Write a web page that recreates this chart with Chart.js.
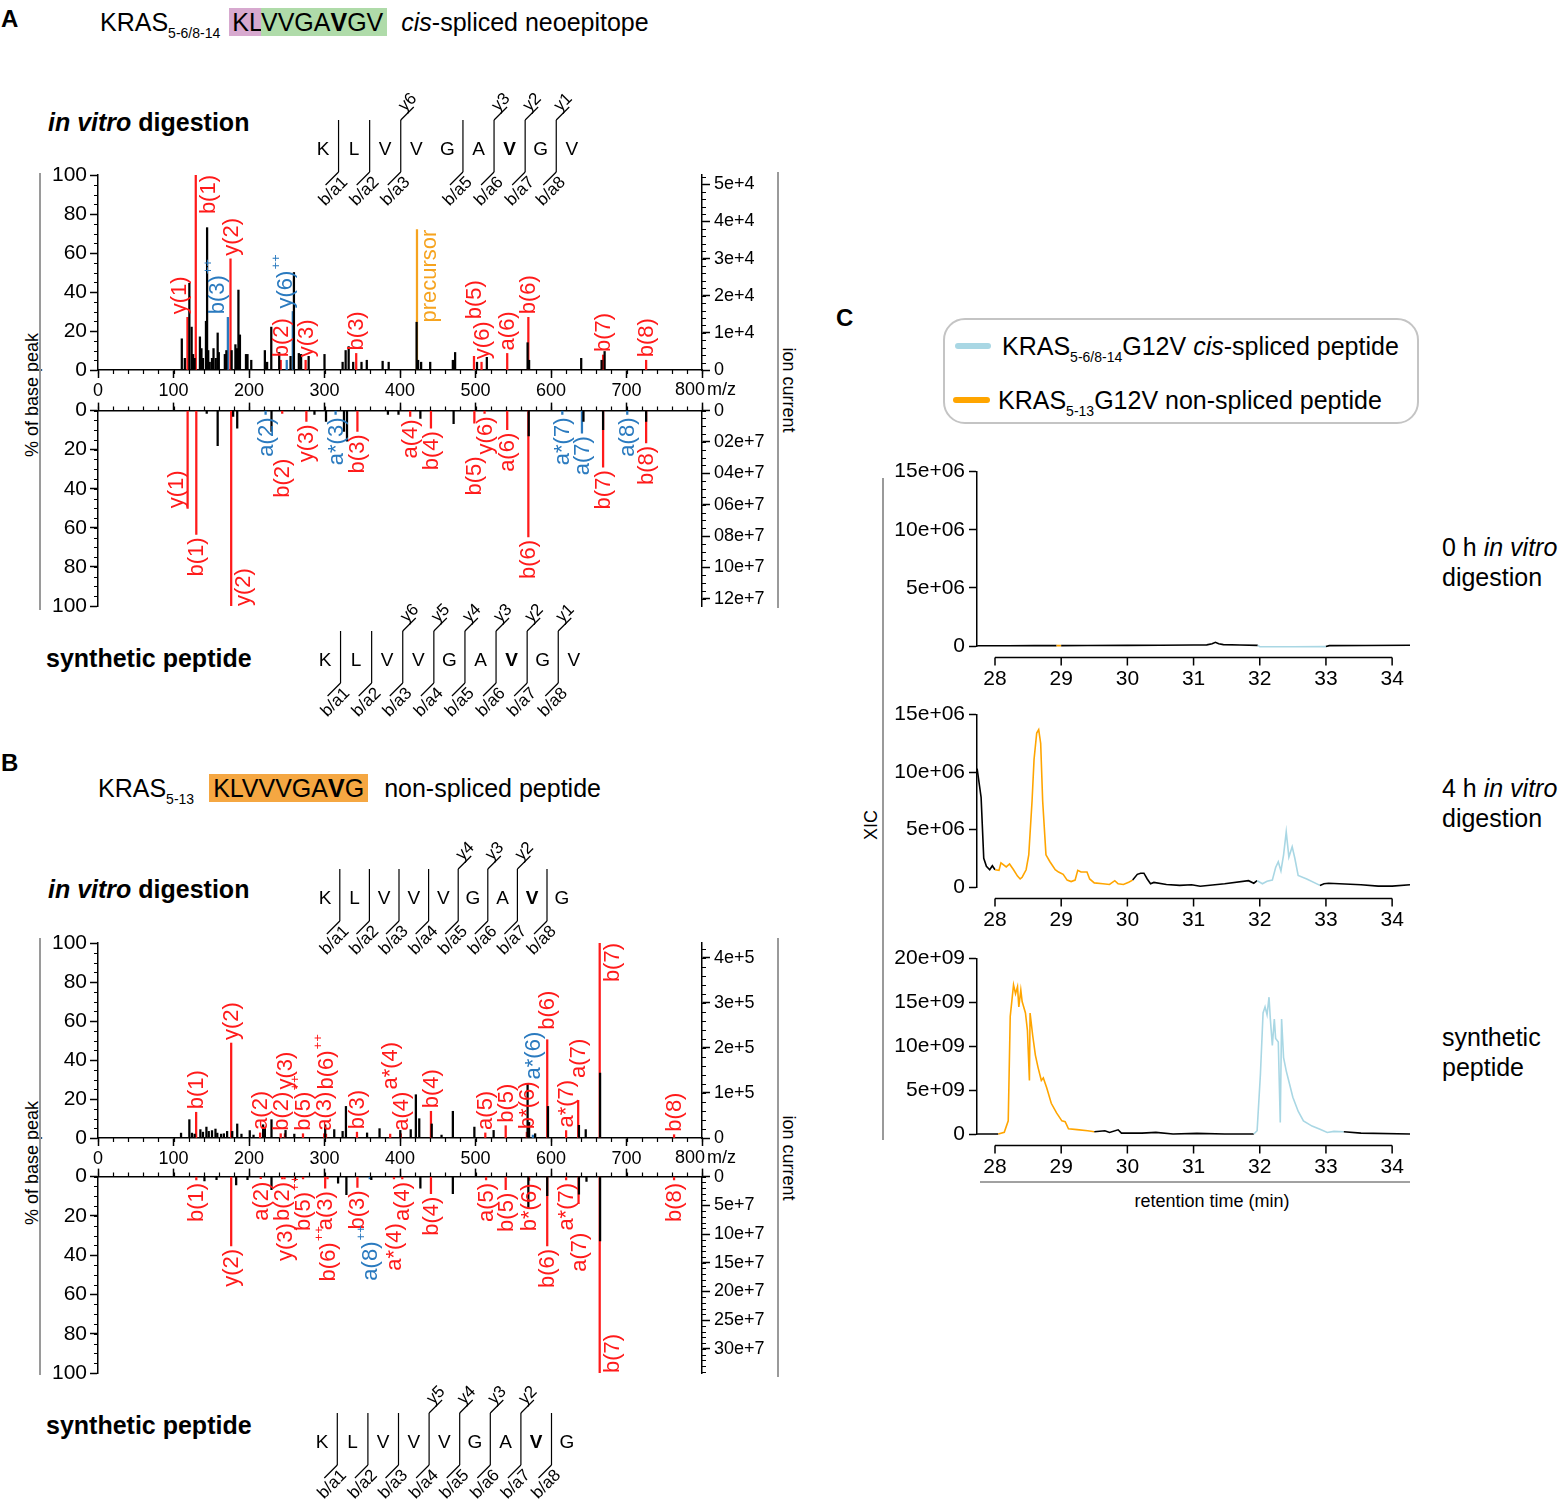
<!DOCTYPE html>
<html>
<head>
<meta charset="utf-8">
<script src="https://cdn.jsdelivr.net/npm/chart.js@4.4.1/dist/chart.umd.min.js"></script>
<style>
  body { margin: 0; background: #fff; font-family: "Liberation Sans", Arial, sans-serif; color: #000; }
  #page { position: relative; width: 1560px; height: 1501px; overflow: hidden; background: #fff; }
  .box { position: absolute; }
  .t { position: absolute; white-space: nowrap; line-height: 1; }
  .t sub { font-size: 14px; vertical-align: -7px; line-height: 0; }
  .rot { position: absolute; white-space: nowrap; line-height: 1; transform: translate(-50%, -50%) rotate(-90deg); font-size: 18px; }
  .rotr { position: absolute; white-space: nowrap; line-height: 1; transform: translate(-50%, -50%) rotate(90deg); font-size: 18px; }
  #overlay { position: absolute; left: 0; top: 0; z-index: 5; pointer-events: none; }
  .sw { position: absolute; height: 6px; border-radius: 3px; }
</style>
</head>
<body>
<div id="page">
  <div class="t" style="left:1px;top:7px;font-size:24px;font-weight:bold">A</div>
  <div class="t" style="left:100px;top:10px;font-size:25px">KRAS<sub>5-6/8-14</sub><span style="background:#d7a9cf;padding-left:3px;margin-left:9px">KL</span><span style="background:#afdba9;padding-right:4px">VVGA<b>V</b>GV</span><span style="margin-left:14px"><i>cis</i>-spliced neoepitope</span></div>
  <div class="t" style="left:48px;top:110px;font-size:25px;font-weight:bold"><i>in vitro</i> digestion</div>
  <div class="t" style="left:46px;top:646px;font-size:25px;font-weight:bold">synthetic peptide</div>
  <div class="rot" style="left:32px;top:395px">% of base peak</div>
  <div class="rotr" style="left:789px;top:390px">ion current</div>

  <div class="t" style="left:1px;top:751px;font-size:24px;font-weight:bold">B</div>
  <div class="t" style="left:98px;top:776px;font-size:25px">KRAS<sub>5-13</sub><span style="background:#f5a742;padding:0 4px;margin-left:15px">KLVVVGA<b>V</b>G</span><span style="margin-left:16px">non-spliced peptide</span></div>
  <div class="t" style="left:48px;top:877px;font-size:25px;font-weight:bold"><i>in vitro</i> digestion</div>
  <div class="t" style="left:46px;top:1413px;font-size:25px;font-weight:bold">synthetic peptide</div>
  <div class="rot" style="left:32px;top:1163px">% of base peak</div>
  <div class="rotr" style="left:789px;top:1158px">ion current</div>

  <div class="t" style="left:836px;top:306px;font-size:24px;font-weight:bold">C</div>
  <div class="box" style="left:943px;top:318px;width:472px;height:102px;border:2px solid #c4c4c4;border-radius:22px"></div>
  <div class="sw" style="left:955px;top:343px;width:36px;background:#a9d7e4"></div>
  <div class="t" style="left:1002px;top:334px;font-size:25px">KRAS<sub>5-6/8-14</sub>G12V <i>cis</i>-spliced peptide</div>
  <div class="sw" style="left:953px;top:397px;width:37px;background:#ffa500"></div>
  <div class="t" style="left:998px;top:388px;font-size:25px">KRAS<sub>5-13</sub>G12V non-spliced peptide</div>
  <div class="rot" style="left:871px;top:825px">XIC</div>
  <div class="t" style="left:1442px;top:535px;font-size:25px">0 h <i>in vitro</i></div>
  <div class="t" style="left:1442px;top:565px;font-size:25px">digestion</div>
  <div class="t" style="left:1442px;top:776px;font-size:25px">4 h <i>in vitro</i></div>
  <div class="t" style="left:1442px;top:806px;font-size:25px">digestion</div>
  <div class="t" style="left:1442px;top:1025px;font-size:25px">synthetic</div>
  <div class="t" style="left:1442px;top:1055px;font-size:25px">peptide</div>
  <div class="t" style="left:1112px;top:1192px;width:200px;text-align:center;font-size:18px">retention time (min)</div>

  <svg id="overlay" width="1560" height="1501"></svg>
</div>

<script>
// ---------- Panel A: KLVVGAVGV (cis-spliced) ----------
// in vitro digestion, unassigned peaks (m/z, % of base peak)
const aVitroMz = [111, 115, 121, 124, 126, 128, 135, 137, 139, 143,
  144.5, 146, 148, 151, 153, 156, 158.5, 160, 168, 170,
  177, 182, 184, 186, 188, 196, 198, 203, 221, 224,
  229.5, 240, 255, 259.5, 266, 269, 279, 300, 324, 328,
  332, 338, 349, 356, 377, 385, 422, 424, 428, 440,
  470, 473, 502, 515, 569, 571, 640, 667, 671];
const aVitroInt = [16, 6, 44.5, 22, 8, 6, 17, 11, 6, 25,
  73, 10, 4, 6, 11, 6, 19, 9, 8, 10,
  10, 13, 11, 41, 18, 8, 8, 5, 10, 4,
  22, 9, 7, 50, 8.5, 8, 7, 8, 4, 10,
  12, 4, 4, 5, 4.5, 4, 24.5, 5, 4, 4,
  5, 9, 4, 6.5, 14, 5, 6, 5, 9.5];
// assigned ions (r = red, b = blue, o = precursor)
const aVitroIonMz = [118.5, 129.5, 172, 175.5, 242, 258, 250, 275, 342, 422.5, 508, 498, 542, 570, 669, 726];
const aVitroIonInt = [27, 100, 27, 57, 5, 30, 5, 5, 8.5, 72, 4, 7, 8.5, 27, 7.7, 5];
const aVitroIonLabel = ['y(1)', 'b(1)', 'b(3)++', 'y(2)', 'b(2)', 'y(6)++', '', 'y(3)', 'b(3)', 'precursor', 'y(6)', 'b(5)', 'a(6)', 'b(6)', 'b(7)', 'b(8)'];
const aVitroIonKind = ['r', 'r', 'b', 'r', 'r', 'b', 'b', 'r', 'r', 'o', 'r', 'r', 'r', 'r', 'r', 'r'];

// synthetic peptide (mirror)
const aSynMz = [144, 158.5, 179, 184.4, 229.8, 286.7, 302, 325.8, 329.8, 384, 398, 427, 471, 570.5, 643, 669, 726];
const aSynInt = [1.5, 18, 3, 9, 10.6, 2, 5.5, 10.6, 15.7, 2, 2, 4, 6.7, 13, 5.5, 9.8, 5.5];
const aSynIonMz = [118.7, 130.2, 176.4, 222, 244, 276, 314.7, 343.6, 413.5, 441, 512, 498.5, 542, 570, 615, 641, 669, 701, 726];
const aSynIonInt = [50, 63.4, 100, 2, 1.5, 5.5, 2, 10.6, 3, 9, 1.5, 6.4, 9.8, 64.6, 2, 11.5, 29, 2, 16.5];
const aSynIonLabel = ['y(1)', 'b(1)', 'y(2)', 'a(2)', 'b(2)', 'y(3)', 'a*(3)', 'b(3)', 'a(4)', 'b(4)', 'y(6)', 'b(5)', 'a(6)', 'b(6)', 'a*(7)', 'a(7)', 'b(7)', 'a(8)', 'b(8)'];
const aSynIonKind = ['r', 'r', 'r', 'b', 'r', 'r', 'b', 'r', 'r', 'r', 'r', 'r', 'r', 'r', 'b', 'b', 'r', 'b', 'r'];

// ---------- Panel B: KLVVVGAVG (non-spliced) ----------
const bVitroMz = [110, 121, 124.5, 128, 135.6, 139, 143.6, 146.7, 151, 155.6,
  158, 163, 166.7, 171, 177.8, 184.4, 190, 201, 206, 218.7,
  221, 229.8, 248.4, 260, 300.9, 312.9, 324, 328.4, 356.4, 372.9,
  400.4, 414.2, 421, 425.5, 442, 455, 470, 498.5, 524, 569,
  571, 579, 596, 637, 646, 665];
const bVitroInt = [2.5, 9.4, 2.5, 2, 4.3, 3, 5.6, 3.4, 3.8, 4.6,
  2.5, 2, 2.2, 3.4, 3.4, 7.2, 2, 3.8, 1.5, 6.8,
  5.5, 9.4, 3.9, 2, 6.8, 4.3, 3.4, 16.2, 2.6, 4.8,
  3.9, 4.3, 22.2, 9.9, 7.2, 1.5, 13.7, 5.6, 3.9, 27.9,
  8, 2.2, 16.2, 6.5, 4.3, 33.3];
const bVitroIonMz = [130, 176.4, 214.7, 242, 247.6, 271.5, 299.6, 302, 343, 401, 387, 441, 513, 540, 568, 576, 595, 620, 636, 664.5, 763];
const bVitroIonInt = [13.2, 48.7, 2.6, 2.2, 2.2, 2.2, 2.2, 2, 3, 2.2, 2, 13.7, 2.6, 6.3, 3, 1.5, 50.4, 3.8, 19.3, 100, 1.7];
const bVitroIonLabel = ['b(1)', 'y(2)', 'a(2)', 'b(2)', 'y(3)', 'b(5)++', 'a(3)', 'b(6)++', 'b(3)', 'a(4)', 'a*(4)', 'b(4)', 'a(5)', 'b(5)', 'b*(6)', 'a*(6)', 'b(6)', 'a*(7)', 'a(7)', 'b(7)', 'b(8)'];
const bVitroIonKind = ['r', 'r', 'r', 'r', 'r', 'r', 'r', 'r', 'r', 'r', 'r', 'r', 'r', 'r', 'r', 'b', 'r', 'r', 'r', 'r', 'r'];

const bSynMz = [141, 157, 183, 198, 229.8, 261, 318, 329, 362, 427, 470, 570, 595, 637, 647, 665];
const bSynInt = [2.2, 1.5, 4.2, 1.5, 6.7, 2, 3.4, 9.2, 1.5, 5.9, 8.7, 16, 9.7, 8.9, 2.5, 32.8];
const bSynIonMz = [130.2, 176.4, 215.6, 244, 247, 271.6, 300.9, 304, 343.6, 360, 403, 392, 441, 514, 540, 571, 595, 620, 636.5, 664.5, 763];
const bSynIonInt = [1.7, 35.3, 1, 1.2, 1.2, 1.2, 5.9, 1.2, 5.5, 1.2, 1.2, 1.2, 8.7, 1.7, 6.7, 2, 35.3, 1.7, 13.8, 100, 1.7];
const bSynIonLabel = ['b(1)', 'y(2)', 'a(2)', 'b(2)', 'y(3)', 'b(5)++', 'a(3)', 'b(6)++', 'b(3)', 'a(8)++', 'a(4)', 'a*(4)', 'b(4)', 'a(5)', 'b(5)', 'b*(6)', 'b(6)', 'a*(7)', 'a(7)', 'b(7)', 'b(8)'];
const bSynIonKind = ['r', 'r', 'r', 'r', 'r', 'r', 'r', 'r', 'r', 'b', 'r', 'r', 'r', 'r', 'r', 'r', 'r', 'r', 'r', 'r', 'r'];

// ---------- Panel C: XIC traces (retention time in min) ----------
const c0hTime = [27.73, 28.2, 28.6, 28.93, 29.0, 29.4, 30.0, 30.5, 31.0, 31.2, 31.28, 31.33, 31.38, 31.45, 31.7, 31.97, 32.0, 32.5, 33.0, 33.05, 33.6, 34.27];
const c0hXic = [0.02, 0.02, 0.03, 0.03, 0.03, 0.04, 0.05, 0.07, 0.08, 0.1, 0.2, 0.32, 0.2, 0.12, 0.08, 0.05, -0.05, -0.06, -0.05, 0.03, 0.04, 0.06]; // x 1e6

const c4hTime = [27.73, 27.79, 27.83, 27.87, 27.92, 27.96, 28.0, 28.06, 28.09, 28.17,
  28.22, 28.28, 28.34, 28.38, 28.41, 28.47, 28.51, 28.56, 28.59, 28.63,
  28.66, 28.69, 28.72, 28.77, 28.83, 28.91, 28.96, 29.03, 29.09, 29.15,
  29.21, 29.25, 29.3, 29.39, 29.43, 29.5, 29.63, 29.73, 29.81, 29.86,
  29.94, 30.02, 30.08, 30.15, 30.2, 30.25, 30.3, 30.35, 30.4, 30.59,
  30.79, 30.97, 31.1, 31.47, 31.83, 31.91, 31.96, 32.04, 32.11, 32.19,
  32.24, 32.28, 32.32, 32.36, 32.4, 32.44, 32.49, 32.53, 32.58, 32.71,
  32.91, 32.97, 33.04, 33.53, 33.79, 34.0, 34.27];
const c4hXic = [10.3, 7.8, 2.5, 1.8, 1.5, 1.85, 1.5, 1.45, 2.1, 1.75,
  2.0, 1.5, 0.95, 0.7, 0.85, 1.5, 2.8, 7.5, 11.1, 13.4,
  13.7, 12.5, 7.5, 2.8, 2.2, 1.5, 1.3, 1.1, 0.6, 0.47,
  0.6, 1.45, 1.3, 1.3, 0.7, 0.36, 0.28, 0.22, 0.55, 0.28,
  0.22, 0.42, 0.6, 1.1, 1.2, 1.2, 0.7, 0.28, 0.4, 0.22,
  0.14, 0.19, 0.06, 0.28, 0.55, 0.33, 0.55, 0.28, 0.5, 0.6,
  1.7, 2.2, 1.4, 2.8, 4.8, 2.6, 3.5, 2.5, 1.0, 0.7,
  0.14, 0.28, 0.33, 0.19, 0.08, 0.08, 0.19]; // x 1e6

const cSynTime = [27.73, 28.05, 28.14, 28.2, 28.23, 28.28, 28.31, 28.34, 28.36, 28.39,
  28.41, 28.46, 28.49, 28.52, 28.53, 28.57, 28.61, 28.65, 28.7, 28.73,
  28.78, 28.85, 28.93, 29.01, 29.06, 29.11, 29.24, 29.4, 29.5, 29.66,
  29.73, 29.86, 29.91, 30.22, 30.43, 30.69, 31.05, 31.47, 31.91, 31.96,
  32.01, 32.05, 32.08, 32.11, 32.14, 32.16, 32.19, 32.22, 32.24, 32.28,
  32.31, 32.33, 32.36, 32.4, 32.45, 32.5, 32.58, 32.66, 32.79, 32.91,
  33.02, 33.12, 33.27, 33.53, 34.27];
const cSynXic = [0, 0, 0.2, 1.5, 13.4, 17, 16, 16.8, 14.5, 16.4,
  15.1, 13.8, 11.8, 6.1, 13.8, 11.2, 9.0, 7.6, 6.1, 6.4,
  5.3, 3.5, 2.4, 1.5, 1.4, 0.6, 0.5, 0.37, 0.26, 0.37,
  0.18, 0.48, 0.1, 0.1, 0.18, 0, 0.07, 0, 0, 0.37,
  6.8, 13.8, 14.5, 13.6, 15.6, 13.1, 10.1, 13.1, 10.9, 10.5,
  1.3, 13.1, 8.7, 7.2, 5.7, 4.2, 2.6, 1.5, 0.9, 0.55,
  0.18, 0.3, 0.26, 0.1, 0]; // x 1e9

// retention-time windows of the two peptides in each trace
const c0hNonSpliced = [28.93, 29.0], c0hSpliced = [31.97, 33.0];
const c4hNonSpliced = [28.0, 30.08], c4hSpliced = [31.96, 32.91];
const cSynNonSpliced = [28.05, 29.5], cSynSpliced = [31.91, 33.27];

// ---------- styling ----------
Chart.defaults.font.family = '"Liberation Sans", Arial, sans-serif';
Chart.defaults.color = '#000';
Chart.defaults.animation = false;
Chart.defaults.plugins.legend.display = false;
Chart.defaults.plugins.tooltip.enabled = false;

const ionColors = { r: '#ff1a1a', b: '#2a7abf', o: '#f6a31e' };
const XIC_ORANGE = '#ffa500', XIC_BLUE = '#a9d7e4';

function makeCanvas(left, top, w, h) {
    const div = document.createElement('div');
    div.className = 'box';
    div.style.cssText = `left:${left}px;top:${top}px;width:${w}px;height:${h}px`;
    const c = document.createElement('canvas');
    c.width = w; c.height = h;
    c.style.width = w + 'px'; c.style.height = h + 'px';
    div.appendChild(c);
    document.getElementById('page').insertBefore(div, document.getElementById('overlay'));
    return c.getContext('2d');
}

// minor ticks for axes (Chart.js only draws one tick length)
function minorTicks(steps) {
    return {
        id: 'minorTicks',
        afterDraw(chart) {
            const ctx = chart.ctx;
            ctx.save();
            ctx.strokeStyle = '#000';
            ctx.lineWidth = 1.2;
            ctx.beginPath();
            Object.keys(steps).forEach(id => {
                const s = chart.scales[id];
                for (let v = s.min; v <= s.max + 1e-9; v += steps[id]) {
                    const p = Math.round(s.getPixelForValue(v)) + 0.5;
                    if (s.isHorizontal()) {
                        const y0 = s.position === 'top' ? s.bottom : s.top;
                        const d = s.position === 'top' ? -4 : 4;
                        ctx.moveTo(p, y0); ctx.lineTo(p, y0 + d);
                    } else {
                        const x0 = s.position === 'left' ? s.right : s.left;
                        const d = s.position === 'left' ? -4 : 4;
                        ctx.moveTo(x0, p); ctx.lineTo(x0 + d, p);
                    }
                }
            });
            ctx.stroke();
            ctx.restore();
        }
    };
}

// rotated ion labels next to the sticks, stacked when they collide
function ionLabels(cfg) {
    return {
        id: 'ionLabels',
        afterDatasetsDraw(chart) {
            const { ctx, chartArea: ca } = chart;
            const xs = chart.scales.x, ys = chart.scales.y;
            const placed = [];
            ctx.save();
            cfg.ionMz.forEach((m, i) => {
                const txt = cfg.ionLabel[i];
                if (!txt) return;
                const sup = txt.endsWith('++');
                const base = sup ? txt.slice(0, -2) : txt;
                ctx.font = '22px "Liberation Sans", Arial';
                const wb = ctx.measureText(base).width;
                const w = wb + (sup ? 10 : 0);
                const nudge = (cfg.nudge || {})[txt];
                const px = xs.getPixelForValue(m);
                const py = ys.getPixelForValue(cfg.ionInt[i]);
                let cx = px + (typeof nudge === 'number' ? nudge : 0), y0, y1;
                if (nudge === 'L') {
                    cx = px - 12;
                    if (cfg.mirror) { y1 = py; y0 = py - w; } else { y0 = py; y1 = py + w; }
                } else if (!cfg.mirror) {
                    y1 = py - 3; y0 = y1 - w;
                    if (y0 < ca.top - 6) { cx = px + 12; y0 = py; y1 = py + w; }
                } else {
                    y0 = py + 3; y1 = y0 + w;
                    if (y1 > ca.bottom + 6) { cx = px + 12; y1 = py; y0 = py - w; }
                }
                let moved = true, guard = 0;
                while (moved && guard++ < 30) {
                    moved = false;
                    for (const r of placed) {
                        if (Math.abs(r.cx - cx) < 17 && y0 < r.y1 && y1 > r.y0) {
                            if (!cfg.mirror) { y1 = r.y0 - 2; y0 = y1 - w; } else { y0 = r.y1 + 2; y1 = y0 + w; }
                            moved = true;
                        }
                    }
                }
                placed.push({ cx, y0, y1 });
                ctx.save();
                ctx.fillStyle = ionColors[cfg.ionKind[i]];
                ctx.translate(cx, y1);
                ctx.rotate(-Math.PI / 2);
                ctx.textBaseline = 'middle';
                ctx.textAlign = 'left';
                ctx.fillText(base, 0, 1);
                if (sup) {
                    ctx.font = '13px "Liberation Sans", Arial';
                    ctx.fillText('++', wb + 1, -8);
                }
                ctx.restore();
            });
            ctx.restore();
        }
    };
}

const mzUnit = {
    id: 'mzUnit',
    afterDraw(chart) {
        const ctx = chart.ctx, xs = chart.scales.x;
        const p = xs.getPixelForValue(800);
        ctx.save();
        ctx.font = '18px "Liberation Sans", Arial';
        ctx.fillStyle = '#000';
        ctx.textBaseline = 'top';
        ctx.textAlign = 'right';
        ctx.fillText('800', p + 3, chart.chartArea.bottom + 11);
        ctx.textAlign = 'left';
        ctx.fillText('m/z', p + 5, chart.chartArea.bottom + 11);
        ctx.restore();
    }
};

function spectrum(cfg) {
    const ctx = makeCanvas(0, cfg.top, 800, cfg.height);
    const sticks = (mz, it) => mz.map((m, i) => ({ x: m, y: it[i] }));
    const pick = k => ({
        data: sticks(cfg.ionMz.filter((m, i) => cfg.ionKind[i] === k), cfg.ionInt.filter((v, i) => cfg.ionKind[i] === k)),
        backgroundColor: ionColors[k], barThickness: 1.6, grouped: false
    });
    const mirror = cfg.mirror;
    const grid = { drawOnChartArea: false, tickLength: 8, tickColor: '#000', tickWidth: 1.5, offset: false };
    const border = { color: '#000', width: 1.5 };
    const plugins = [minorTicks({ x: 20, y: 5, y2: cfg.ionMinor }), ionLabels(cfg)];
    if (!mirror) plugins.push(mzUnit);
    new Chart(ctx, {
        type: 'bar',
        data: {
            datasets: [
                { data: sticks(cfg.mz, cfg.int), backgroundColor: '#000', barThickness: 1.6, grouped: false },
                pick('r'), pick('b'), pick('o')
            ]
        },
        options: {
            responsive: false,
            layout: { padding: { top: cfg.padTop, bottom: cfg.padBottom, left: 0, right: 0 } },
            scales: {
                x: {
                    type: 'linear', min: 0, max: 800, offset: false, position: mirror ? 'top' : 'bottom',
                    grid, border,
                    ticks: { stepSize: 100, includeBounds: false, display: !mirror, font: { size: 18 }, padding: 2, maxRotation: 0, autoSkip: false,
                        callback: v => v === 800 ? '' : v },
                    afterFit: s => { s.height = cfg.xHeight; }
                },
                y: {
                    min: 0, max: 100, reverse: mirror, position: 'left', grid, border,
                    ticks: { stepSize: 20, includeBounds: false, font: { size: 21 }, padding: 3 },
                    afterFit: s => { s.width = 98; }
                },
                y2: {
                    min: 0, max: cfg.ionMax, reverse: mirror, position: 'right', grid, border,
                    ticks: { font: { size: 18 }, padding: 4, callback: cfg.ionFmt },
                    // exact multiples of the step (Chart.js rounds the spacing for large values)
                    afterBuildTicks: s => {
                        const t = [];
                        for (let v = 0; v <= cfg.ionMax; v += cfg.ionStep) t.push({ value: v });
                        s.ticks = t;
                    },
                    afterFit: s => { s.width = 98; }
                }
            }
        },
        plugins
    });
}

// x axis drawn apart from the trace, as in the original
function detachedAxis(from, to) {
    return {
        id: 'detachedAxis',
        afterDraw(chart) {
            const s = chart.scales.x, ctx = chart.ctx;
            const y = chart.chartArea.bottom + 11.5;
            ctx.save();
            ctx.strokeStyle = '#000';
            ctx.lineWidth = 1.5;
            ctx.beginPath();
            ctx.moveTo(s.getPixelForValue(from), y);
            ctx.lineTo(s.getPixelForValue(to), y);
            for (let v = from; v <= to; v++) {
                const p = s.getPixelForValue(v);
                ctx.moveTo(p, y); ctx.lineTo(p, y + 8);
            }
            ctx.stroke();
            ctx.restore();
        }
    };
}

function xic(cfg) {
    const ctx = makeCanvas(880, cfg.top, 560, cfg.height);
    const inside = (t, r) => t >= r[0] - 1e-6 && t <= r[1] + 1e-6;
    new Chart(ctx, {
        type: 'line',
        data: {
            datasets: [{
                data: cfg.time.map((t, i) => ({ x: t, y: cfg.val[i] })),
                borderColor: '#000', borderWidth: 1.6, pointRadius: 0, tension: 0, clip: 10,
                segment: {
                    borderColor: c => {
                        const m = (c.p0.parsed.x + c.p1.parsed.x) / 2;
                        return inside(m, cfg.orange) ? XIC_ORANGE : inside(m, cfg.blue) ? XIC_BLUE : '#000';
                    }
                }
            }]
        },
        options: {
            responsive: false,
            layout: { padding: { top: 15, right: 30, left: 0, bottom: 0 } },
            scales: {
                x: {
                    type: 'linear', min: 27.728, max: 34.27,
                    grid: { display: false, drawTicks: false }, border: { display: false },
                    ticks: { stepSize: 1, includeBounds: false, font: { size: 21 }, padding: 21, maxRotation: 0 },
                    afterFit: s => { s.height = cfg.xHeight; }
                },
                y: {
                    min: 0, max: cfg.max,
                    grid: { drawOnChartArea: false, tickLength: 8, tickColor: '#000', tickWidth: 1.5 },
                    border: { color: '#000', width: 1.5 },
                    ticks: { stepSize: 5, includeBounds: false, font: { size: 21 }, padding: 4, callback: cfg.fmt },
                    afterFit: s => { s.width = 97; }
                }
            }
        },
        plugins: [detachedAxis(28, 34)]
    });
}

// ---------- build the spectra ----------
spectrum({
    top: 90, height: 320, padTop: 85, padBottom: 0, xHeight: 40, mirror: false,
    mz: aVitroMz, int: aVitroInt, ionMz: aVitroIonMz, ionInt: aVitroIonInt, ionLabel: aVitroIonLabel, ionKind: aVitroIonKind,
    ionMax: 5.25e4, ionStep: 1e4, ionMinor: 2e3, ionFmt: v => v === 0 ? '0' : Math.round(v / 1e4) + 'e+4',
    nudge: { 'y(1)': -9, 'b(3)++': -11, 'y(6)++': -8 }
});
spectrum({
    top: 395, height: 230, padTop: 0, padBottom: 19, xHeight: 14, mirror: true,
    mz: aSynMz, int: aSynInt, ionMz: aSynIonMz, ionInt: aSynIonInt, ionLabel: aSynIonLabel, ionKind: aSynIonKind,
    ionMax: 1.246e8, ionStep: 2e7, ionMinor: 5e6,
    ionFmt: v => v === 0 ? '0' : String(Math.round(v / 1e7)).padStart(2, '0') + 'e+7',
    nudge: { 'y(1)': 'L' }
});
spectrum({
    top: 858, height: 320, padTop: 85, padBottom: 0, xHeight: 40, mirror: false,
    mz: bVitroMz, int: bVitroInt, ionMz: bVitroIonMz, ionInt: bVitroIonInt, ionLabel: bVitroIonLabel, ionKind: bVitroIonKind,
    ionMax: 4.33e5, ionStep: 1e5, ionMinor: 2e4, ionFmt: v => v === 0 ? '0' : Math.round(v / 1e5) + 'e+5'
});
spectrum({
    top: 1161, height: 232, padTop: 0, padBottom: 20, xHeight: 14, mirror: true,
    mz: bSynMz, int: bSynInt, ionMz: bSynIonMz, ionInt: bSynIonInt, ionLabel: bSynIonLabel, ionKind: bSynIonKind,
    ionMax: 3.42e8, ionStep: 5e7, ionMinor: 1e7, ionFmt: v => v === 0 ? '0' : Math.round(v / 1e7) + 'e+7'
});

// ---------- build the XIC panel ----------
const fmt06 = v => v === 0 ? '0' : v + 'e+06';
xic({ top: 455, height: 240, xHeight: 49, max: 15, fmt: fmt06, time: c0hTime, val: c0hXic, orange: c0hNonSpliced, blue: c0hSpliced });
xic({ top: 698, height: 240, xHeight: 51, max: 15, fmt: fmt06, time: c4hTime, val: c4hXic, orange: c4hNonSpliced, blue: c4hSpliced });
xic({ top: 942, height: 240, xHeight: 48, max: 20, fmt: v => v === 0 ? '0' : v + 'e+09', time: cSynTime, val: cSynXic, orange: cSynNonSpliced, blue: cSynSpliced });

// ---------- fragment ladders and frame lines ----------
const svg = document.getElementById('overlay');
function el(tag, attrs, text) {
    const e = document.createElementNS('http://www.w3.org/2000/svg', tag);
    Object.entries(attrs).forEach(([k, v]) => e.setAttribute(k, v));
    if (text) e.textContent = text;
    svg.appendChild(e);
    return e;
}
function ladder(x0, y, step, seq, boldIdx, bSites, yIons) {
    const n = seq.length;
    [...seq].forEach((r, i) => el('text', { x: x0 + i * step, y: y + 7, 'text-anchor': 'middle', 'font-size': 19,
        'font-family': 'Liberation Sans, Arial', 'font-weight': i === boldIdx ? 'bold' : 'normal' }, r));
    const ySites = yIons.map(k => n - k);
    const sites = [...new Set([...bSites, ...ySites])];
    sites.forEach(s => {
        const sx = x0 + (s - 0.5) * step;
        const line = (x1, y1, x2, y2) => el('line', { x1, y1, x2, y2, stroke: '#000', 'stroke-width': 1.2 });
        line(sx, y - 28, sx, y + 24);
        if (bSites.includes(s)) {
            line(sx, y + 24, sx - 13, y + 37);
            el('text', { x: 0, y: 0, 'text-anchor': 'end', 'font-size': 17, 'font-family': 'Liberation Sans, Arial',
                transform: `translate(${sx + 10},${y + 35}) rotate(-45)` }, 'b/a' + s);
        }
        if (ySites.includes(s)) {
            line(sx, y - 28, sx + 13, y - 41);
            el('text', { x: 0, y: 0, 'text-anchor': 'start', 'font-size': 17, 'font-family': 'Liberation Sans, Arial',
                transform: `translate(${sx + 4},${y - 36}) rotate(-45)` }, 'y' + (n - s));
        }
    });
}
ladder(323, 148, 31.1, 'KLVVGAVGV', 6, [1, 2, 3, 5, 6, 7, 8], [6, 3, 2, 1]);
ladder(325, 659, 31.1, 'KLVVGAVGV', 6, [1, 2, 3, 4, 5, 6, 7, 8], [6, 5, 4, 3, 2, 1]);
ladder(325, 897, 29.6, 'KLVVVGAVG', 7, [1, 2, 3, 4, 5, 6, 7, 8], [4, 3, 2]);
ladder(322, 1441, 30.6, 'KLVVVGAVG', 7, [1, 2, 3, 4, 5, 6, 7, 8], [5, 4, 3, 2]);

[[40, 173, 40, 610], [778, 172, 778, 608], [40, 938, 40, 1375], [778, 938, 778, 1377], [883, 478, 883, 1140]]
    .forEach(([x1, y1, x2, y2]) => el('line', { x1, y1, x2, y2, stroke: '#9a9a9a', 'stroke-width': 2 }));
el('line', { x1: 980, y1: 1182, x2: 1410, y2: 1182, stroke: '#444', 'stroke-width': 1 });
</script>
</body>
</html>
